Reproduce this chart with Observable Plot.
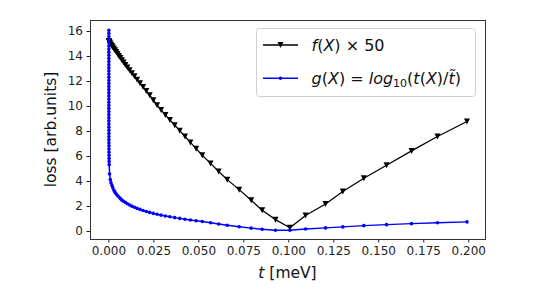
<!DOCTYPE html>
<html>
<head>
<meta charset="utf-8">
<script src="https://cdn.jsdelivr.net/npm/d3@7"></script>
<script src="https://cdn.jsdelivr.net/npm/@observablehq/plot@0.6"></script>
<style>
  body { margin: 0; background: #fff; }
  #wrap { position: relative; width: 538px; height: 303px; font-family: "DejaVu Sans", sans-serif; }
  #overlay { position: absolute; left: 0; top: 0; pointer-events: none; }
</style>
</head>
<body>
<div id="wrap"></div>
<script>
// ---- data ----
// g(X): samples where t(X) is practically zero (the vertical part of the blue curve)
const tNearZeroG = [0, 0, 0, 0, 0, 0, 0, 0, 0, 0, 0, 0, 0, 0, 0, 0, 0, 0, 0, 0, 0, 0,
  0, 0, 0, 0, 0, 0, 0, 0, 0.00001, 0.00001, 0.00001, 0.00002, 0.00002, 0.00003, 0.00004, 0.00005,
  0.00006, 0.00008, 0.0001, 0.00012, 0.00015, 0.0002];
const gNearZero = [16.1, 15.85, 15.6, 15.35, 15.1, 14.85, 14.6, 14.35, 14.1, 13.85, 13.6, 13.35,
  13.1, 12.85, 12.6, 12.35, 12.1, 11.85, 11.6, 11.35, 11.1, 10.85, 10.6, 10.35, 10.1, 9.85,
  9.6, 9.35, 9.1, 8.85, 8.6, 8.35, 8.1, 7.85, 7.6, 7.35, 7.1, 6.85, 6.6, 6.35, 6.1, 5.85, 5.6, 5.35];
// f(X): samples where t(X) is practically zero
const tNearZeroF = [0, 0.0001, 0.0002];
const fNearZero = [15.25, 15.2, 15.16];

// main sweep of t (meV), shared by both curves
const tValues = [0.0004, 0.0008, 0.0012, 0.0017, 0.0022, 0.0028, 0.0034, 0.0041, 0.0048, 0.0056,
  0.0064, 0.0073, 0.0082, 0.0092, 0.0103, 0.0115, 0.0128, 0.0142, 0.0157, 0.0173,
  0.019, 0.0208, 0.0227, 0.0247, 0.0268, 0.029, 0.0314, 0.0339, 0.0366, 0.0394,
  0.0423, 0.0453, 0.0485, 0.0519, 0.0565, 0.061, 0.0658, 0.0724, 0.0791, 0.0852,
  0.0926, 0.1006, 0.1093, 0.1204, 0.130, 0.1417, 0.1543, 0.1682, 0.1826, 0.199];
// f(X) x 50
const fValues = [15.12, 15.04, 14.95, 14.85, 14.75, 14.62, 14.5, 14.36, 14.21, 14.04,
  13.88, 13.7, 13.52, 13.33, 13.12, 12.9, 12.66, 12.42, 12.15, 11.87,
  11.56, 11.24, 10.9, 10.5, 10.1, 9.73, 9.33, 8.93, 8.5, 8.07,
  7.6, 7.13, 6.63, 6.1, 5.45, 4.8, 4.15, 3.35, 2.5, 1.7,
  0.95, 0.3, 1.28, 2.2, 3.2, 4.26, 5.3, 6.45, 7.6, 8.8];
// g(X) = log10(t(X)/t~)
const gValues = [4.6, 4.15, 3.9, 3.7, 3.5, 3.3, 3.15, 3.0, 2.88, 2.76,
  2.63, 2.51, 2.42, 2.32, 2.22, 2.12, 2.03, 1.94, 1.85, 1.77,
  1.68, 1.6, 1.53, 1.45, 1.38, 1.31, 1.24, 1.18, 1.11, 1.05,
  0.98, 0.92, 0.86, 0.8, 0.7, 0.6, 0.5, 0.38, 0.27, 0.18,
  0.1, 0.1, 0.2, 0.29, 0.37, 0.47, 0.55, 0.63, 0.7, 0.77];

const xTicks = [0, 0.025, 0.05, 0.075, 0.1, 0.125, 0.15, 0.175, 0.2];
const yTicks = [0, 2, 4, 6, 8, 10, 12, 14, 16];

// ---- build tables ----
const fT = tNearZeroF.concat(tValues), fV = fNearZero.concat(fValues);
const gT = tNearZeroG.concat(tValues), gV = gNearZero.concat(gValues);
const fData = fT.map((t, i) => ({t, v: fV[i]}));
const gData = gT.map((t, i) => ({t, v: gV[i]}));

// matplotlib-like downward triangle marker
const triangleDown = {
  draw(context, size) {
    const w = Math.sqrt(size / Math.PI);
    context.moveTo(-w, -w);
    context.lineTo(w, -w);
    context.lineTo(0, w);
    context.closePath();
  }
};

const chart = Plot.plot({
  width: 538,
  height: 303,
  marginLeft: 90,
  marginRight: 53,
  marginTop: 20,
  marginBottom: 64,
  style: { fontFamily: "DejaVu Sans, sans-serif", fontSize: "12px", color: "#222", background: "white" },
  x: { domain: [-0.0102, 0.2093] },
  y: { domain: [-0.64, 16.88] },
  marks: [
    Plot.line(fData, { x: "t", y: "v", stroke: "black", strokeWidth: 1.3 }),
    Plot.dot(fData, { x: "t", y: "v", symbol: triangleDown, r: 3, fill: "black", stroke: "none" }),
    Plot.line(gData, { x: "t", y: "v", stroke: "blue", strokeWidth: 1.5 }),
    Plot.dot(gData, { x: "t", y: "v", r: 1.8, fill: "blue", stroke: "none" }),
    Plot.axisX({ ticks: xTicks, tickFormat: d3.format(".3f"), tickSize: 3.5, tickPadding: 3, label: null }),
    Plot.axisY({ ticks: yTicks, tickFormat: d3.format("d"), tickSize: 3.5, tickPadding: 4, label: null }),
    Plot.frame({ stroke: "#333", strokeWidth: 1 })
  ]
});

const wrap = document.getElementById("wrap");
wrap.appendChild(chart);

// axis labels and legend
const ns = "http://www.w3.org/2000/svg";
const overlay = document.createElementNS(ns, "svg");
overlay.setAttribute("id", "overlay");
overlay.setAttribute("width", 538);
overlay.setAttribute("height", 303);
overlay.innerHTML = `
  <g font-family="DejaVu Sans, sans-serif" fill="#111">
    <text x="287.5" y="278" font-size="15.5" text-anchor="middle"><tspan font-style="italic">t</tspan> [meV]</text>
    <text transform="translate(56,129.5) rotate(-90)" font-size="15.5" text-anchor="middle">loss [arb.units]</text>
    <rect x="256.5" y="28.5" width="219" height="68" rx="3" ry="3" fill="white" fill-opacity="0.85" stroke="#d0d0d0" stroke-width="1"/>
    <line x1="263" y1="45" x2="298" y2="45" stroke="black" stroke-width="1.3"/>
    <path d="M277.5,42 L283.5,42 L280.5,48 Z" fill="black"/>
    <line x1="263" y1="78.3" x2="298" y2="78.3" stroke="blue" stroke-width="1.5"/>
    <circle cx="280.5" cy="78.3" r="1.8" fill="blue"/>
    <text x="311.5" y="51" font-size="16"><tspan font-style="italic">f</tspan>(<tspan font-style="italic">X</tspan>) × 50</text>
    <text x="311.5" y="84.3" font-size="16"><tspan font-style="italic">g</tspan>(<tspan font-style="italic">X</tspan>) = <tspan font-style="italic">log</tspan><tspan font-size="11" dy="3">10</tspan><tspan dy="-3">(</tspan><tspan font-style="italic">t</tspan>(<tspan font-style="italic">X</tspan>)/<tspan font-style="italic">t̃</tspan>)</text>
  </g>`;
wrap.appendChild(overlay);
</script>
</body>
</html>
